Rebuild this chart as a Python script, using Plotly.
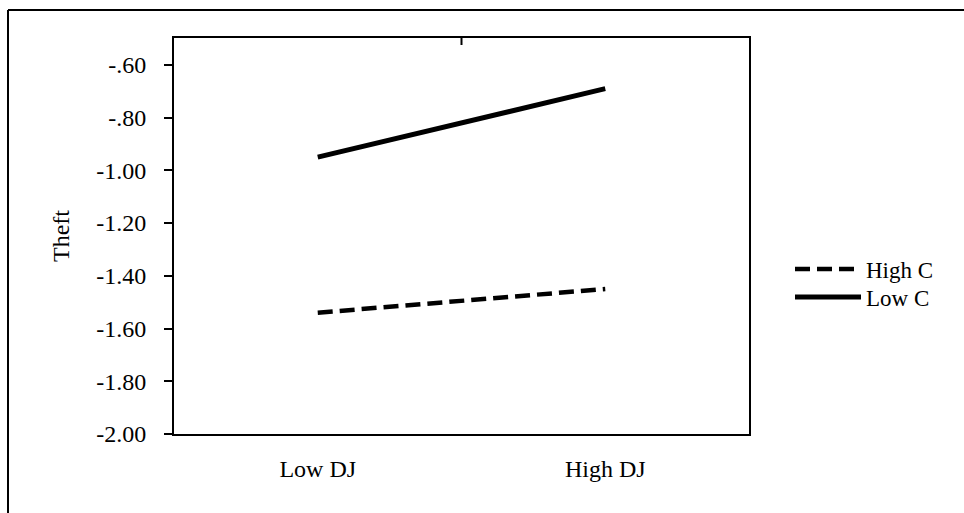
import plotly.graph_objects as go

categories = ["Low DJ", "High DJ"]
high_c = [-1.54, -1.45]
low_c = [-0.95, -0.69]
y_tickvals = [-2.0, -1.8, -1.6, -1.4, -1.2, -1.0, -0.8, -0.6]
y_ticktext = ["-2.00", "-1.80", "-1.60", "-1.40", "-1.20", "-1.00", "-.80", "-.60"]

W, H = 964, 513
L, R, T, B = 174, 749, 38, 434

fig = go.Figure()
fig.add_trace(go.Scatter(x=[0, 1], y=high_c, mode="lines", name="High C", legend="legend",
                         line=dict(color="black", width=4.5, dash="15px,7px")))
fig.add_trace(go.Scatter(x=[0, 1], y=low_c, mode="lines", name="Low C", legend="legend2",
                         line=dict(color="black", width=5)))

font = dict(family="Liberation Serif, Times New Roman, serif", size=24, color="black")
legfont = dict(family="Liberation Serif, Times New Roman, serif", size=23, color="black")


def leg(center_px):
    return dict(x=(790 - L) / (R - L), y=1 - (center_px - T) / (B - T),
                xanchor="left", yanchor="middle", font=legfont, itemwidth=66,
                tracegroupgap=0, bgcolor="rgba(0,0,0,0)")


fig.update_layout(
    width=W, height=H,
    margin=dict(l=L, r=W - R, t=T, b=H - B, pad=0),
    paper_bgcolor="white", plot_bgcolor="white",
    font=font,
    showlegend=True,
    legend=leg(269),
    legend2=leg(297),
    xaxis=dict(range=[-0.5, 1.5], tickvals=[0, 1], ticktext=categories,
               showline=True, linecolor="black", linewidth=2, mirror=True,
               showgrid=False, zeroline=False, ticks="", ticklabelstandoff=12,
               fixedrange=True),
    yaxis=dict(range=[-2.0, -0.498], tickvals=y_tickvals, ticktext=y_ticktext,
               showline=True, linecolor="black", linewidth=2, mirror=True,
               showgrid=False, zeroline=False, ticks="outside", ticklen=8,
               tickwidth=2, tickcolor="black", ticklabelstandoff=13,
               title=dict(text="Theft", standoff=20, font=font),
               fixedrange=True),
    shapes=[
        # outer frame: top and left edges
        dict(type="line", xref="paper", yref="paper",
             x0=(8 - L) / (R - L), x1=(W + 5 - L) / (R - L),
             y0=1 + (T - 10) / (B - T), y1=1 + (T - 10) / (B - T),
             line=dict(color="black", width=2)),
        dict(type="line", xref="paper", yref="paper",
             x0=(8 - L) / (R - L), x1=(8 - L) / (R - L),
             y0=1 + (T - 10) / (B - T), y1=-(H + 5 - B) / (B - T),
             line=dict(color="black", width=2)),
        # small divider tick on top border
        dict(type="line", xref="x", yref="paper", x0=0.5, x1=0.5,
             y0=1, y1=1 - 7 / (B - T), line=dict(color="black", width=2)),
    ],
)

fig.write_html("out.html", config={"displayModeBar": False},
               post_script="document.body.style.margin='0px';document.body.style.overflow='hidden';")
